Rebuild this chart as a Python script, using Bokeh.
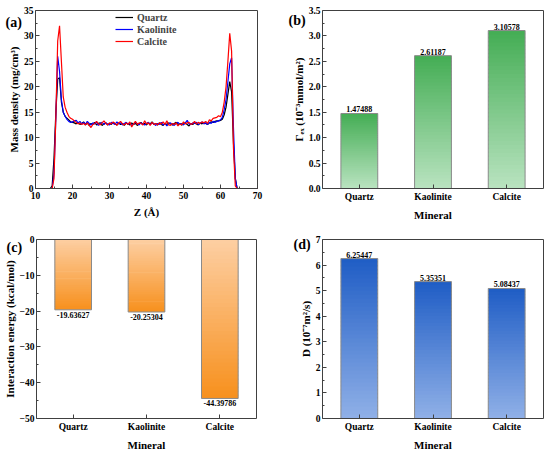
from bokeh.plotting import figure
from bokeh.layouts import column, row
from bokeh.models import (Range1d, FixedTicker, Label, Legend, LegendItem,
                          PrintfTickFormatter, LinearAxis)
from bokeh.embed import file_html
from bokeh.resources import INLINE
from bokeh.core.properties import value

FONT = "Liberation Serif"

# ---------------- data ----------------
z = [10, 14, 14.5, 15, 15.5, 16, 16.5, 17, 17.5, 18,
     18.5, 19, 19.5, 20, 20.5, 21, 21.5, 22, 22.5, 23,
     23.5, 24, 24.5, 25, 25.5, 26, 26.5, 27, 27.5, 28,
     28.5, 29, 29.5, 30, 30.5, 31, 31.5, 32, 32.5, 33,
     33.5, 34, 34.5, 35, 35.5, 36, 36.5, 37, 37.5, 38,
     38.5, 39, 39.5, 40, 40.5, 41, 41.5, 42, 42.5, 43,
     43.5, 44, 44.5, 45, 45.5, 46, 46.5, 47, 47.5, 48,
     48.5, 49, 49.5, 50, 50.5, 51, 51.5, 52, 52.5, 53,
     53.5, 54, 54.5, 55, 55.5, 56, 56.5, 57, 57.5, 58,
     58.5, 59, 59.5, 60, 60.5, 61, 61.5, 62, 62.5, 63,
     63.5, 64, 64.5, 65, 70]

quartz = [0, 0, 0.5, 6, 15, 21.5, 21.8, 17, 15, 14.2,
          13.8, 13.5, 13.1, 13.0, 12.9, 12.7, 13.0, 12.6, 12.8, 13.1,
          12.5, 12.9, 12.4, 12.8, 12.6, 13.0, 12.5, 12.8, 12.9, 12.4,
          12.7, 12.9, 12.5, 12.8, 12.6, 13.0, 12.7, 12.5, 12.9, 12.6,
          12.8, 12.4, 12.9, 12.7, 12.5, 12.9, 12.6, 12.8, 12.4, 12.7,
          13.0, 12.6, 12.8, 12.5, 12.9, 12.7, 13.1, 12.6, 12.8, 12.5,
          12.9, 12.6, 12.4, 12.8, 12.6, 12.9, 12.7, 12.5, 12.8, 13.0,
          12.6, 12.8, 12.5, 12.7, 12.9, 12.6, 12.3, 12.8, 12.6, 12.9,
          12.7, 12.5, 12.9, 12.7, 13.0, 12.8, 12.6, 12.9, 13.1, 13.0,
          13.2, 13.3, 13.3, 13.4, 13.6, 14.5, 16, 18.5, 21.0, 19,
          9, 2, 0, 0, 0]

kaolinite = [0, 0, 0, 3, 14, 26, 23, 17.5, 15, 14.2,
             13.6, 13.2, 13.0, 13.1, 13.3, 13.4, 12.9, 13.2, 12.7, 13.0,
             12.6, 13.2, 12.8, 12.5, 12.9, 12.7, 13.1, 12.4, 12.8, 13.0,
             12.6, 12.9, 12.7, 12.5, 13.0, 12.8, 12.6, 13.1, 12.7, 12.9,
             12.5, 12.8, 13.0, 12.6, 12.9, 12.4, 12.7, 13.0, 12.8, 12.5,
             12.9, 12.7, 12.5, 12.8, 13.0, 12.6, 12.9, 12.7, 12.4, 12.8,
             12.6, 13.0, 12.5, 12.8, 12.3, 12.7, 12.9, 12.6, 12.4, 12.8,
             13.0, 12.6, 12.8, 12.5, 12.9, 13.4, 12.7, 12.6, 12.9, 12.8,
             13.0, 12.6, 12.8, 13.1, 12.7, 12.9, 12.6, 13.0, 12.8, 13.2,
             13.0, 13.2, 13.3, 13.5, 14.0, 15.5, 17.5, 21, 24.5, 25.7,
             12, 2, 0, 0, 0]

calcite = [0, 0, 0, 2, 14, 29, 32, 25, 18, 16,
           15, 14.2, 13.8, 13.6, 13.3, 13.0, 12.7, 12.9, 12.6, 12.8,
           12.5, 12.9, 12.4, 12.0, 12.6, 12.8, 13.2, 12.7, 12.5, 12.9,
           13.3, 12.8, 12.5, 12.9, 12.7, 13.1, 12.8, 12.4, 12.9, 13.2,
           12.7, 12.5, 12.9, 12.6, 13.1, 12.1, 12.7, 13.2, 12.6, 12.9,
           12.8, 12.5, 13.3, 12.7, 12.9, 12.4, 13.0, 12.6, 12.8, 12.5,
           12.9, 12.7, 13.1, 12.6, 13.3, 12.5, 12.4, 12.8, 12.6, 12.9,
           12.3, 12.7, 12.5, 13.1, 12.7, 12.9, 13.0, 12.6, 12.8, 13.2,
           12.7, 13.0, 12.8, 13.1, 12.9, 13.2, 12.8, 13.5, 13.3, 13.8,
           13.9, 14.0, 14.3, 14.1, 15.0, 17.0, 20.0, 25.0, 30.5, 27.0,
           8, 0.5, 0, 0, 0]

minerals = ["Quartz", "Kaolinite", "Calcite"]
gamma_ex = [1.47488, 2.61187, 3.10578]
energy = [-19.63627, -20.25304, -44.39786]
diffusion = [6.25447, 5.35351, 5.08437]

AX = "#404040"


def steps(a, b, s):
    n = int(round((b - a) / s))
    return [a + k * s for k in range(n + 1)]


def make_fig(W, H, xb, yb, px, py):
    """Frame = whole canvas; data box xb/yb mapped to pixel box px (left,right), py (top,bottom)."""
    sx = (xb[1] - xb[0]) / (px[1] - px[0])
    sy = (yb[1] - yb[0]) / (py[1] - py[0])
    xr = Range1d(xb[0] - px[0] * sx, xb[1] + (W - px[1]) * sx)
    yr = Range1d(yb[0] - (H - py[1]) * sy, yb[1] + py[0] * sy)
    p = figure(width=W, height=H, output_backend="svg", toolbar_location=None,
               x_range=xr, y_range=yr, min_border_left=0, min_border_right=0,
               min_border_top=0, min_border_bottom=0)
    p.background_fill_color = "white"
    p.border_fill_color = "white"
    p.outline_line_color = None
    p.xgrid.visible = False
    p.ygrid.visible = False
    return p


def style_axis(ax):
    ax.axis_line_color = AX
    ax.major_tick_in = 4
    ax.major_tick_out = 0
    ax.minor_tick_in = 2
    ax.minor_tick_out = 0
    ax.major_tick_line_color = AX
    ax.minor_tick_line_color = AX
    ax.major_label_text_font = FONT
    ax.major_label_text_font_style = "bold"
    ax.major_label_text_font_size = "9.5px"
    ax.major_label_text_color = "black"
    ax.axis_label_text_font = FONT
    ax.axis_label_text_font_style = "bold"
    ax.axis_label_text_font_size = "11px"
    ax.axis_label_text_color = "black"
    ax.major_label_standoff = 3
    ax.axis_label_standoff = 4


def axes(p, xb, yb, xt, xm, yt, ym, xlab, ylab, xover=None, yfmt=None):
    xa, ya = p.xaxis[0], p.yaxis[0]
    style_axis(xa)
    style_axis(ya)
    xa.fixed_location = yb[0]
    xa.bounds = xb
    ya.fixed_location = xb[0]
    ya.bounds = yb
    xa.ticker = FixedTicker(ticks=xt, minor_ticks=xm)
    ya.ticker = FixedTicker(ticks=yt, minor_ticks=ym)
    xa.axis_label = xlab
    ya.axis_label = ylab
    ya.major_label_standoff = 2
    ya.axis_label_standoff = 1
    if xover:
        xa.major_label_overrides = xover
    if yfmt:
        ya.formatter = PrintfTickFormatter(format=yfmt)
    for loc, fixed, bnds in (("right", xb[1], yb), ("above", yb[1], xb)):
        a = LinearAxis(fixed_location=fixed, bounds=bnds,
                       ticker=FixedTicker(ticks=[], minor_ticks=[]),
                       axis_line_color=AX, major_tick_line_color=None,
                       minor_tick_line_color=None, major_label_text_font_size="0px")
        p.add_layout(a, loc)


def panel_label(p, text, lx, ly, H):
    p.add_layout(Label(x=lx, y=H - ly, x_units="screen", y_units="screen",
                       text=text, text_font=FONT, text_font_style="bold",
                       text_font_size="14px", text_baseline="middle", text_align="left",
                       text_color="black"))


def hex2rgb(h):
    h = h.lstrip("#")
    return tuple(int(h[i:i + 2], 16) for i in (0, 2, 4))


def mix(c0, c1, t):
    a, b = hex2rgb(c0), hex2rgb(c1)
    return "#%02x%02x%02x" % tuple(int(round(a[i] + (b[i] - a[i]) * t)) for i in range(3))


def gradient_bars(p, vals, light, dark, n=40):
    L, R, B, T, C = [], [], [], [], []
    for i, v in enumerate(vals):
        xc = i + 1
        for k in range(n):
            y0 = v * k / n
            y1 = v * min(k + 1.4, n) / n
            L.append(xc - 0.25)
            R.append(xc + 0.25)
            B.append(min(y0, y1))
            T.append(max(y0, y1))
            C.append(mix(light, dark, (k + 0.5) / n))
    p.quad(left=L, right=R, bottom=B, top=T, fill_color=C, line_color=None)
    xs = [i + 1 for i in range(len(vals))]
    p.vbar(x=xs, width=0.5, bottom=0, top=vals, fill_color=None,
           line_color="#8a8a8a", line_width=1)


def value_labels(p, vals, below=False):
    xs = [i + 1 for i in range(len(vals))]
    p.text(x=xs, y=vals, text=["%.5f" % v for v in vals], text_align="center",
           text_baseline="top" if below else "bottom", y_offset=2 if below else -1,
           text_font=value(FONT), text_font_style="bold", text_font_size="8px",
           text_color="black")


W1, W2 = 275, 275
H1, H2 = 225, 226
cat_ticks = [1, 2, 3]
cat_over = {i + 1: m for i, m in enumerate(minerals)}

# ---------------- (a) ----------------
xb, yb = (10, 70), (0, 35)
pa = make_fig(W1, H1, xb, yb, (35, 257), (10, 188))
axes(pa, xb, yb, steps(10, 70, 10), steps(15, 65, 10), steps(0, 35, 5), steps(2.5, 32.5, 5),
     "Z (Å)", "Mass density (mg/cm³)")
rq = pa.line(z, quartz, line_color="black", line_width=1.2)
rk = pa.line(z, kaolinite, line_color="#0000ff", line_width=1.2)
rc = pa.line(z, calcite, line_color="#ff0000", line_width=1.2)
leg = Legend(items=[LegendItem(label="Quartz", renderers=[rq]),
                    LegendItem(label="Kaolinite", renderers=[rk]),
                    LegendItem(label="Calcite", renderers=[rc])],
             location=(115, H1 - 11 - 36))
leg.label_text_font = FONT
leg.label_text_font_style = "bold"
leg.label_text_font_size = "10px"
leg.padding = 0
leg.margin = 0
leg.spacing = 0
leg.glyph_width = 18
leg.glyph_height = 12
leg.label_height = 12
leg.label_standoff = 4
leg.border_line_color = None
leg.background_fill_alpha = 0
pa.add_layout(leg)
panel_label(pa, "(a)", 5, 22, H1)

# ---------------- (b) ----------------
xb, yb = (0.5, 3.5), (0, 3.5)
pb = make_fig(W2, H1, xb, yb, (47, 268), (10, 188))
axes(pb, xb, yb, cat_ticks, [], steps(0, 3.5, 0.5), steps(0.25, 3.25, 0.5),
     "Mineral", "Γₑₓ (10⁻³mmol/m²)", xover=cat_over, yfmt="%.1f")
gradient_bars(pb, gamma_ex, "#b9e3c0", "#44ad54")
value_labels(pb, gamma_ex)
panel_label(pb, "(b)", 13, 20, H1)

# ---------------- (c) ----------------
xb, yb = (0.5, 3.5), (-50, 0)
pc = make_fig(W1, H2, xb, yb, (36, 256), (14, 193))
axes(pc, xb, yb, cat_ticks, [], steps(-50, 0, 10), steps(-45, -5, 10),
     "Mineral", "Interaction energy (kcal/mol)", xover=cat_over)
gradient_bars(pc, energy, "#fdcfa3", "#f7901d")
value_labels(pc, energy, below=True)
panel_label(pc, "(c)", 6, 22, H2)

# ---------------- (d) ----------------
xb, yb = (0.5, 3.5), (0, 7)
pd_ = make_fig(W2, H2, xb, yb, (47, 268), (14, 193))
axes(pd_, xb, yb, cat_ticks, [], steps(0, 7, 1), steps(0.5, 6.5, 1),
     "Mineral", "D (10⁻⁷m²/s)", xover=cat_over)
gradient_bars(pd_, diffusion, "#90b0e7", "#1f5dc5")
value_labels(pd_, diffusion)
panel_label(pd_, "(d)", 18, 19, H2)

layout = column(row(pa, pb), row(pc, pd_))
open("out.html", "w").write(file_html(layout, INLINE))
